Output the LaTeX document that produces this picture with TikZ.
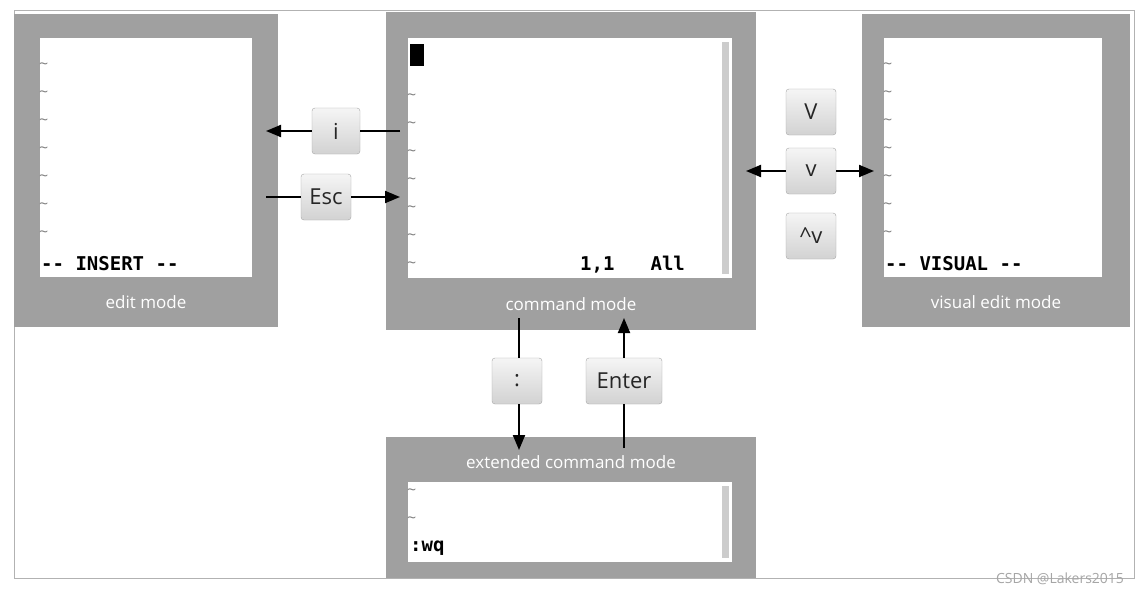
\documentclass[tikz,border=0pt]{standalone}
\usepackage{fontspec}
\setmainfont{Open Sans}
\newfontfamily\monof{DejaVu Sans Mono}
\usetikzlibrary{arrows.meta}
\definecolor{pan}{RGB}{160,160,160}
\definecolor{keyc}{RGB}{210,210,210}
\begin{document}
\begin{tikzpicture}[x=1pt,y=-1pt,
 panel/.style={fill=pan,draw=none},
 screen/.style={fill=white,draw=none},
 plab/.style={text=white,font=\fontsize{17}{17}\selectfont},
 key/.style={draw=gray!70,rounded corners=3pt,top color=gray!8,bottom color=keyc,font=\fontsize{22}{22}\selectfont,minimum height=46pt,inner xsep=6pt,text=black!85},
 ar/.style={line width=2pt,-{Triangle[length=15pt,width=12pt]}},
 ln/.style={line width=2pt},
 til/.style={text=gray,font=\fontsize{16}{16}\selectfont,anchor=west,inner sep=1pt},
 mono/.style={font=\monof\bfseries\fontsize{19}{19}\selectfont,anchor=west,inner sep=0pt}]
\useasboundingbox (0,0) rectangle (1148,594);
\fill[white] (0,0) rectangle (1148,594);
\draw[gray!60,line width=0.8pt] (14,10) rectangle (1134,578);
% panels
\fill[panel] (14,14) rectangle (278,327);
\fill[screen] (40,38) rectangle (252,277);
\fill[panel] (386,12) rectangle (756,330);
\fill[screen] (408,38) rectangle (732,278);
\fill[gray!40] (722,42) rectangle (729,274);
\fill[panel] (862,14) rectangle (1130,327);
\fill[screen] (884,38) rectangle (1102,277);
\fill[panel] (386,437) rectangle (756,578);
\fill[screen] (408,482) rectangle (732,562);
\fill[gray!40] (722,486) rectangle (729,558);
\fill[black] (410,44) rectangle (424,66);
% labels
\node[plab] (le) at (146,302) {edit mode};
\node[plab] (lc) at (571,304) {command mode};
\node[plab] (lv) at (996,302) {visual edit mode};
\node[plab] (lx) at (571,462) {extended command mode};
% tildes
\foreach \y [count=\i] in {66,94,122,150,178,206,234} {
 \node[til] (te\i) at (38,\y) {\textasciitilde};
 \node[til] (tv\i) at (882,\y) {\textasciitilde};}
\foreach \y [count=\i] in {97,125,153,181,209,237,265} \node[til] (tc\i) at (406,\y) {\textasciitilde};
\node[til] (tx1) at (406,492) {\textasciitilde};
\node[til] (tx2) at (406,520) {\textasciitilde};
% mono texts
\node[mono] (ins) at (41,264) {-- INSERT --};
\node[mono] (vis) at (885,264) {-- VISUAL --};
\node[mono] (pos) at (580,265) {1,1\hspace{1.9em}All};
\node[mono] (wq) at (410,548) {:wq};
% keys
\node[key,minimum width=48pt] (ki) at (336,131) {i};
\node[key,minimum width=50pt] (kesc) at (326,197) {Esc};
\node[key,minimum width=50pt] (kV) at (811,112) {V};
\node[key,minimum width=50pt] (kv) at (811,171) {v};
\node[key,minimum width=50pt] (kcv) at (811,236) {\textasciicircum v};
\node[key,minimum width=50pt] (kcol) at (517,381) {:};
\node[key,minimum width=76pt] (kent) at (624,381) {Enter};
% connectors
\coordinate (a1) at (400,131); \coordinate (a2) at (266,131);
\draw[ln] (a1) -- (ki.east); \draw[ar] (ki.west) -- (a2);
\coordinate (b1) at (266,197); \coordinate (b2) at (400,197);
\draw[ln] (b1) -- (kesc.west); \draw[ar] (kesc.east) -- (b2);
\coordinate (c1) at (746,171); \coordinate (c2) at (874,171);
\draw[ar] (kv.west) -- (c1); \draw[ar] (kv.east) -- (c2);
\coordinate (d1) at (519,318); \coordinate (d2) at (519,450);
\draw[ln] (d1) -- (kcol.north -| d1); \draw[ar] (kcol.south -| d1) -- (d2);
\coordinate (e1) at (624,448); \coordinate (e2) at (624,318);
\draw[ln] (e1) -- (kent.south); \draw[ar] (kent.north) -- (e2);
\node[text=gray!70,font=\fontsize{14}{14}\selectfont] (wm) at (1060,579) {CSDN @Lakers2015};
\end{tikzpicture}
\end{document}
